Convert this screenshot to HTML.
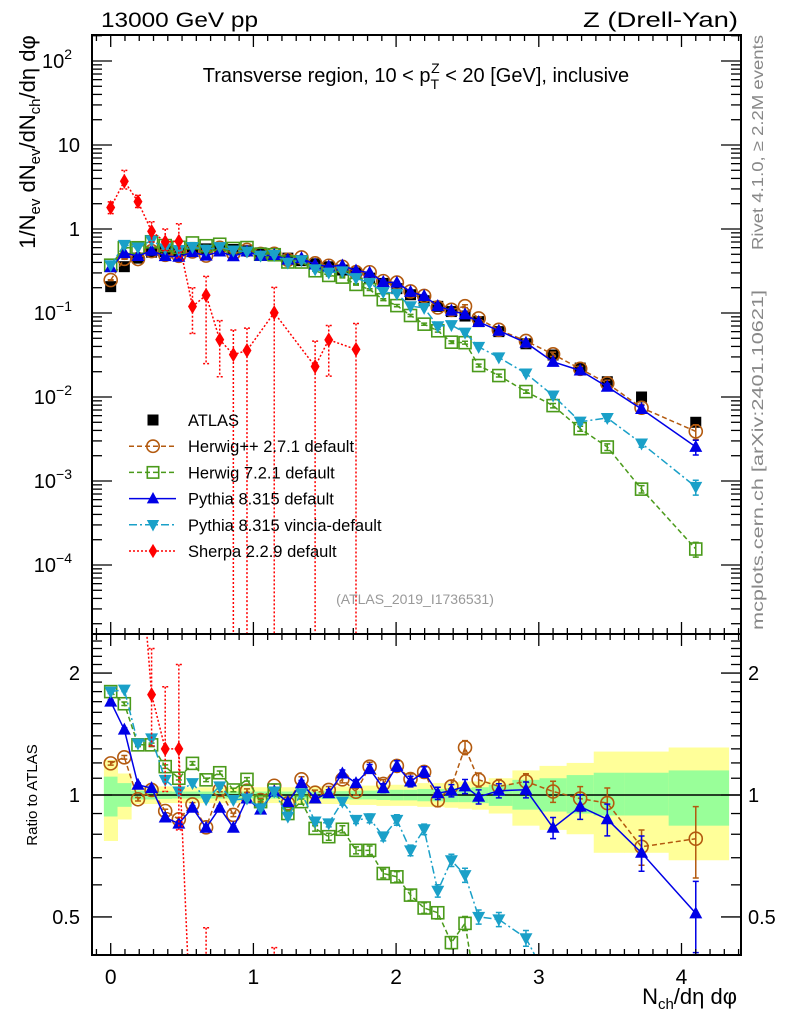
<!DOCTYPE html>
<html><head><meta charset="utf-8"><style>
html,body{margin:0;padding:0;background:#fff;overflow:hidden;width:786px;height:1024px;}
svg{display:block;font-family:"Liberation Sans",sans-serif;}
</style></head><body>
<svg id="chart" width="786" height="1024" viewBox="0 0 786 1024" xmlns="http://www.w3.org/2000/svg">
<defs>
<clipPath id="cm"><rect x="92" y="35" width="649" height="599"/></clipPath>
<clipPath id="cr"><rect x="92" y="635" width="649" height="320"/></clipPath>
</defs>
<g id="bands" clip-path="url(#cr)"></g>
<line x1="92" x2="741" y1="795" y2="795" stroke="#000" stroke-width="1.5"/>
<g id="series-main" clip-path="url(#cm)"></g>
<g id="series-ratio" clip-path="url(#cr)"></g>
<g id="axes"></g>
<text x="101" y="27" font-size="21" textLength="157" lengthAdjust="spacingAndGlyphs">13000 GeV pp</text>
<text x="583" y="27" font-size="21" textLength="155" lengthAdjust="spacingAndGlyphs">Z (Drell-Yan)</text>
<text x="416" y="82" font-size="20" text-anchor="middle">Transverse region, 10 &lt; p<tspan font-size="14" dy="7">T</tspan><tspan font-size="14" dx="-8" dy="-16">Z</tspan><tspan dy="9"> &lt; 20 [GeV], inclusive</tspan></text>
<text x="415" y="604" font-size="14" fill="#999" text-anchor="middle">(ATLAS_2019_I1736531)</text>
<text transform="translate(763,250) rotate(-90)" font-size="16" fill="#888" textLength="215" lengthAdjust="spacingAndGlyphs">Rivet 4.1.0, ≥ 2.2M events</text>
<text transform="translate(763,630) rotate(-90)" font-size="16" fill="#888" textLength="340" lengthAdjust="spacingAndGlyphs">mcplots.cern.ch [arXiv:2401.10621]</text>
<text transform="translate(35,142) rotate(-90)" font-size="22" text-anchor="middle">1/N<tspan font-size="15" dy="5">ev</tspan><tspan dy="-5"> dN</tspan><tspan font-size="15" dy="5">ev</tspan><tspan dy="-5">/dN</tspan><tspan font-size="15" dy="5">ch</tspan><tspan dy="-5">/dη dφ</tspan></text>
<text transform="translate(37,795) rotate(-90)" font-size="15" text-anchor="middle">Ratio to ATLAS</text>
<text x="737" y="1004" font-size="22" text-anchor="end">N<tspan font-size="15" dy="5">ch</tspan><tspan dy="-5">/dη dφ</tspan></text>
<g id="legend"></g>
</svg>
<script>
// ---- data ----
const xVals = [0,0.0955,0.191,0.2865,0.382,0.4775,0.573,0.6685,0.764,0.8595,0.955,1.0505,1.146,1.2415,1.337,1.4325,1.528,1.6235,1.719,1.8145,1.91,2.0055,2.101,2.1965,2.292,2.3875,2.483,2.5785,2.72,2.91,3.10,3.29,3.48,3.72,4.10];
const atlasVals = [0.206,0.356,0.45,0.53,0.54,0.55,0.57,0.58,0.58,0.57,0.55,0.52,0.48,0.45,0.42,0.385,0.355,0.325,0.30,0.26,0.225,0.195,0.165,0.14,0.12,0.104,0.092,0.079,0.060,0.043,0.0316,0.0221,0.0152,0.0100,0.0050];
const herwigppRatio = [1.197,1.239,0.976,1.029,0.913,0.871,0.948,0.832,1.029,0.893,1.025,0.972,1.054,0.954,1.093,1.013,1.029,1.093,1.019,1.175,1.065,1.18,1.095,1.14,0.97,1.05,1.31,1.09,1.05,1.08,1.02,0.98,0.955,0.745,0.78];
const herwig7Ratio = [1.80,1.68,1.33,1.33,1.175,1.10,1.197,1.09,1.135,1.029,1.093,0.963,1.029,0.90,0.963,0.827,0.789,0.823,0.73,0.73,0.64,0.628,0.566,0.526,0.512,0.432,0.482,0.30,0.30,0.27,0.25,0.19,0.167,0.08,0.031];
const pythiaRatio = [1.70,1.45,1.06,1.04,0.88,0.85,0.93,0.83,0.93,0.83,0.98,0.92,1.02,0.96,1.07,0.98,1.01,1.13,1.07,1.16,1.04,1.18,1.08,1.14,1.01,1.025,1.05,0.99,1.025,1.03,0.83,0.936,0.871,0.72,0.51];
const vinciaRatio = [1.80,1.82,1.34,1.38,1.09,1.02,1.07,0.976,1.05,0.972,0.98,0.927,1.02,0.884,1.01,0.86,0.851,0.963,0.868,0.876,0.79,0.868,0.73,0.823,0.58,0.69,0.634,0.50,0.493,0.443,0.33,0.23,0.37,0.28,0.17];
const sherpaRatio = [8.75,10.4,4.7,1.77,1.3,1.3,0.21,0.28,0.083,0.056,0.065,null,0.21,null,null,0.06,0.135,null,0.123,null,null,null,null,null,null,null,null,null,null,null,null,null,null,null,null];
const sherpaHiRatio = [10.2,14,5.6,2.3,1.85,2.1,0.35,0.47,0.14,0.11,0.12,null,0.42,null,null,0.12,0.2,null,0.25,null,null,null,null,null,null,null,null,null,null,null,null,null,null,null,null];
const sherpaLoRatio = [7.4,8.4,4.0,1.32,1.02,0.82,0.1,0.043,0.03,1e-9,1e-9,null,1e-9,null,null,1e-9,0.05,null,1e-9,null,null,null,null,null,null,null,null,null,null,null,null,null,null,null,null];
const mcRelErr = [0.01,0.01,0.01,0.01,0.01,0.01,0.01,0.01,0.01,0.01,0.01,0.01,0.01,0.015,0.015,0.015,0.02,0.02,0.02,0.025,0.025,0.03,0.03,0.03,0.035,0.035,0.04,0.04,0.04,0.045,0.06,0.07,0.09,0.1,0.2];
const yelHi = [1.22,1.13,1.05,1.05,1.05,1.05,1.045,1.045,1.045,1.045,1.045,1.045,1.045,1.045,1.05,1.05,1.05,1.05,1.055,1.055,1.06,1.06,1.06,1.07,1.07,1.075,1.08,1.08,1.1,1.15,1.18,1.2,1.28,1.28,1.31];
const yelLo = [0.77,0.87,0.95,0.95,0.955,0.955,0.955,0.955,0.955,0.955,0.955,0.955,0.955,0.955,0.95,0.95,0.95,0.95,0.945,0.945,0.94,0.94,0.94,0.935,0.935,0.93,0.925,0.92,0.9,0.84,0.82,0.8,0.72,0.72,0.69];
const grnHi = [1.11,1.07,1.025,1.025,1.022,1.02,1.02,1.02,1.02,1.02,1.02,1.02,1.02,1.02,1.02,1.02,1.022,1.022,1.025,1.025,1.028,1.03,1.03,1.035,1.035,1.04,1.04,1.045,1.06,1.09,1.1,1.12,1.135,1.135,1.15];
const grnLo = [0.885,0.935,0.975,0.975,0.978,0.98,0.98,0.98,0.98,0.98,0.98,0.98,0.98,0.98,0.98,0.98,0.978,0.978,0.975,0.975,0.972,0.97,0.97,0.965,0.965,0.96,0.96,0.955,0.94,0.92,0.91,0.9,0.89,0.89,0.84];
const xTickLabels = ["0","1","2","3","4"];
const mainTickExp = [2,1,0,-1,-2,-3,-4];
const ratioTickVals = [0.5,1,2];
const ratioTickLabels = ["0.5","1","2"];
const legendLabels = ["ATLAS","Herwig++ 2.7.1 default","Herwig 7.2.1 default","Pythia 8.315 default","Pythia 8.315 vincia-default","Sherpa 2.2.9 default"];

// ---- scales ----
const L=92,R=741,T=35,MB=634,RB=955;
const X = v => 110.7 + v*142.7;
const YM = v => 229 - 84*Math.log10(v);
const YR = v => 795 - 405*Math.log10(v);
const NS='http://www.w3.org/2000/svg';
function mk(tag, attrs, parent){const e=document.createElementNS(NS,tag);for(const k in attrs)e.setAttribute(k,attrs[k]);parent.appendChild(e);return e;}

// bands
const gb=document.getElementById('bands');
function edges(i){const lo=i===0?xVals[0]-0.0477:(xVals[i-1]+xVals[i])/2;const hi=i===xVals.length-1?xVals[i]+0.23:(xVals[i]+xVals[i+1])/2;return [X(lo),X(hi)];}
xVals.forEach((x,i)=>{const [a,b]=edges(i);
 const y1=mk('rect',{x:a,y:YR(yelHi[i]),width:b-a+0.5,height:YR(yelLo[i])-YR(yelHi[i]),fill:'#ffff99'},gb);
 
 
 const g1=mk('rect',{x:a,y:YR(grnHi[i]),width:b-a+0.5,height:YR(grnLo[i])-YR(grnHi[i]),fill:'#99ff99'},gb);
 
 
});

const series=[
 {name:'herwigpp',ratio:herwigppRatio,color:'#b35a0f',dash:'5,3',marker:'circle'},
 {name:'herwig7',ratio:herwig7Ratio,color:'#4a9a1a',dash:'5,3',marker:'osquare'},
 {name:'pythia',ratio:pythiaRatio,color:'#0000e6',dash:'',marker:'tri'},
 {name:'vincia',ratio:vinciaRatio,color:'#1aa0c8',dash:'8,3,2,3',marker:'itri'},
 {name:'sherpa',ratio:sherpaRatio,color:'#ff0000',dash:'2,2',marker:'diamond'}
];
function marker(g,type,cx,cy,color,s){
 let e;
 if(type==='circle') e=mk('circle',{cx,cy,r:6.5*s,fill:'none',stroke:color,'stroke-width':1.6},g);
 else if(type==='osquare') e=mk('rect',{x:cx-6*s,y:cy-6*s,width:12*s,height:12*s,fill:'none',stroke:color,'stroke-width':1.6},g);
 else if(type==='square') e=mk('rect',{x:cx-5.5*s,y:cy-5.5*s,width:11*s,height:11*s,fill:color},g);
 else if(type==='tri') e=mk('polygon',{points:`${cx},${cy-7*s} ${cx-6.5*s},${cy+5*s} ${cx+6.5*s},${cy+5*s}`,fill:color},g);
 else if(type==='itri') e=mk('polygon',{points:`${cx},${cy+7*s} ${cx-6.5*s},${cy-5*s} ${cx+6.5*s},${cy-5*s}`,fill:color},g);
 else e=mk('polygon',{points:`${cx},${cy-7.5*s} ${cx-4.5*s},${cy} ${cx},${cy+7.5*s} ${cx+4.5*s},${cy}`,fill:color},g);
 return e;
}
const gm=document.getElementById('series-main'), gr=document.getElementById('series-ratio');
// ATLAS data drawn first (underneath MC)
const ga=mk('g',{},gm);


xVals.forEach((x,i)=>{const m=marker(ga,'square',X(x),YM(atlasVals[i]),'#000',1);
 
 });

function drawSeries(s, g, Y, valOf, hiOf, loOf){
 const sg=mk('g',{},g);
 
 
 let pts=[];
 xVals.forEach((x,i)=>{const v=valOf(i); if(v!=null) pts.push([X(x),Y(v),i]);});
 const d=pts.map((p,k)=>(k?'L':'M')+p[0].toFixed(1)+','+p[1].toFixed(1)).join('');
 const ln=mk('path',{d,fill:'none',stroke:s.color,'stroke-width':1.5,'stroke-dasharray':s.dash},sg);
 
 
 pts.forEach(p=>{const i=p[2];const hi=hiOf(i),lo=loOf(i);
  if(hi!=null){const eb=mk('path',{d:`M${p[0]},${Y(hi)}L${p[0]},${Y(lo)}M${p[0]-3},${Y(hi)}L${p[0]+3},${Y(hi)}M${p[0]-3},${Y(lo)}L${p[0]+3},${Y(lo)}`,stroke:s.color,'stroke-width':1.5,'stroke-dasharray':s.name==='sherpa'?'2,2':'',fill:'none'},sg);
   
   }
  const m=marker(sg,s.marker,p[0],p[1],s.color,1);
  
  
 });
}
series.forEach(s=>{
 const isS=s.name==='sherpa';
 const hiR=i=>isS?sherpaHiRatio[i]:(s.ratio[i]*(1+mcRelErr[i]));
 const loR=i=>isS?sherpaLoRatio[i]:(s.ratio[i]*(1-mcRelErr[i]));
 drawSeries(s,gm,YM,i=>s.ratio[i]==null?null:s.ratio[i]*atlasVals[i],i=>hiR(i)==null?null:hiR(i)*atlasVals[i],i=>loR(i)==null?null:Math.max(loR(i)*atlasVals[i],1e-9));
 drawSeries(s,gr,YR,i=>s.ratio[i],hiR,i=>loR(i)==null?null:Math.max(loR(i),1e-9));
});

// axes
const ax=document.getElementById('axes');
function ln(x1,y1,x2,y2,w){return mk('line',{x1,y1,x2,y2,stroke:'#000','stroke-width':w||1.3},ax);}
mk('rect',{x:L,y:T,width:R-L,height:RB-T,fill:'none',stroke:'#000','stroke-width':2},ax);
ln(L,MB,R,MB,2);
for(let k=-1;k<=46;k++){const v=k*0.1;const x=X(v);if(x<L||x>R)continue;const maj=k%10===0;const len=maj?12:6;
 [T,MB].forEach(y=>ln(x,y,x,y+len));
 [MB,RB].forEach(y=>ln(x,y,x,y-len));
}
xTickLabels.forEach((t,i)=>{const e=mk('text',{x:X(i),y:984,'font-size':21,'text-anchor':'middle'},ax);e.textContent=t;
 
 });
for(let e=-5;e<=2;e++){for(let m=1;m<=9;m++){const v=m*Math.pow(10,e);const y=YM(v);if(y<T||y>MB)continue;const len=m===1?20:10;ln(L,y,L+len,y);ln(R,y,R-len,y);}}
mainTickExp.forEach(e=>{const y=YM(Math.pow(10,e));const t=mk('text',{x:e===0||e===1?80:72,y:y+7,'font-size':20,'text-anchor':'end'},ax);
 
 
 if(e===0)t.textContent='1';else if(e===1)t.textContent='10';else{t.textContent='10';const s=mk('tspan',{'font-size':14,dy:-9},t);s.textContent=e===2?'2':'−'+(-e);}});
[0.4,0.5,0.6,0.7,0.8,0.9,1,1.1,1.2,1.3,1.4,1.5,1.6,1.7,1.8,1.9,2,2.1,2.2,2.3,2.4].forEach(v=>{const y=YR(v);if(y<MB||y>RB)return;const maj=(v===0.5||v===1||v===2);const len=maj?20:10;ln(L,y,L+len,y);ln(R,y,R-len,y);});
ratioTickVals.forEach((v,i)=>{const y=YR(v)+7;
 const a=mk('text',{x:80,y,'font-size':20,'text-anchor':'end'},ax);a.textContent=ratioTickLabels[i];
 
 
 const b=mk('text',{x:748,y,'font-size':20},ax);b.textContent=ratioTickLabels[i];
 
 });

// legend
const lg=document.getElementById('legend');
const legStyles=[{marker:'square',color:'#000',dash:null}].concat(series);
legendLabels.forEach((lab,i)=>{const y=420+i*26.2;const st=legStyles[i];
 const g=mk('g',{},lg);
 
 
 if(st.dash!==null&&st.dash!==undefined) mk('line',{x1:129,x2:176,y1:y,y2:y,stroke:st.color,'stroke-width':1.5,'stroke-dasharray':st.dash},g);
 marker(g,st.marker,153,y,st.color,i===0?1:0.95);
 const t=mk('text',{x:188,y:y+6,'font-size':16.5},g);t.textContent=lab;});
</script>
</body></html>
